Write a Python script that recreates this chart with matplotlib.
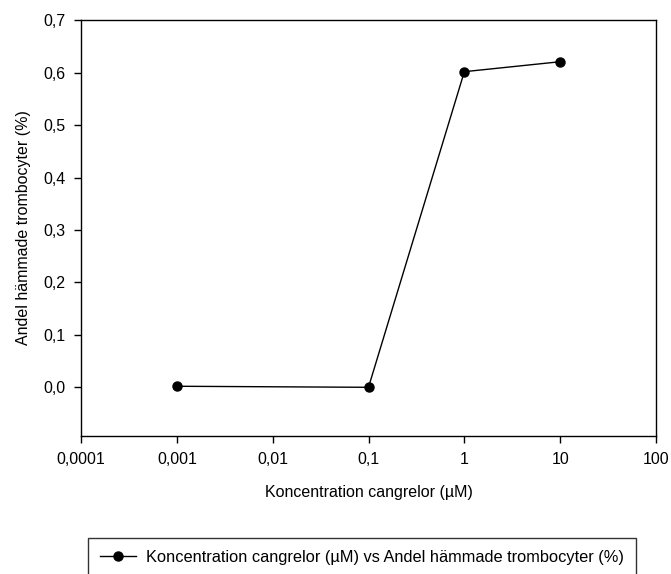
import matplotlib
matplotlib.use("Agg")
import matplotlib.pyplot as plt
from matplotlib.ticker import FixedLocator, FixedFormatter, NullLocator

plt.rcParams['font.family'] = ['Liberation Sans', 'DejaVu Sans']
plt.rcParams['font.size'] = 11.5

# data
concentration = [0.001, 0.1, 1, 10]
inhibited = [0.002, 0.0, 0.602, 0.621]

x_ticks = [0.0001, 0.001, 0.01, 0.1, 1, 10, 100]
x_tick_labels = ["0,0001", "0,001", "0,01", "0,1", "1", "10", "100"]
y_ticks = [0.0, 0.1, 0.2, 0.3, 0.4, 0.5, 0.6, 0.7]
y_tick_labels = ["0,0", "0,1", "0,2", "0,3", "0,4", "0,5", "0,6", "0,7"]

legend_label = "Koncentration cangrelor (µM) vs Andel hämmade trombocyter (%)"

fig = plt.figure(figsize=(6.71, 5.74), dpi=100)
ax = fig.add_axes([81 / 671, 1 - 435.7 / 574, (656 - 81) / 671, (435.7 - 20.3) / 574])

ax.plot(concentration, inhibited, color="black", linewidth=1,
        marker="o", markersize=6.5, label=legend_label)

ax.set_xscale("log")
ax.set_xlim(0.0001, 100)
ax.set_ylim(-0.0923, 0.7)

ax.xaxis.set_major_locator(FixedLocator(x_ticks))
ax.xaxis.set_major_formatter(FixedFormatter(x_tick_labels))
ax.xaxis.set_minor_locator(NullLocator())
ax.set_yticks(y_ticks)
ax.set_yticklabels(y_tick_labels)

ax.tick_params(direction="out", length=5, width=1, colors="black")
ax.tick_params(axis="x", pad=7)
ax.tick_params(axis="y", pad=6)
for s in ax.spines.values():
    s.set_linewidth(1)

ax.set_xlabel("Koncentration cangrelor (µM)", labelpad=13)
ax.set_ylabel("Andel hämmade trombocyter (%)", labelpad=9)

leg = fig.legend(loc="upper left", bbox_to_anchor=(88 / 671, 1 - 537.7 / 574),
                 frameon=True, fancybox=False, borderpad=0.75, fontsize=11.8,
                 handlelength=2.2, handletextpad=0.6, borderaxespad=0)
leg.get_frame().set_edgecolor("black")
leg.get_frame().set_linewidth(1)

plt.savefig("out.png", dpi=100)
